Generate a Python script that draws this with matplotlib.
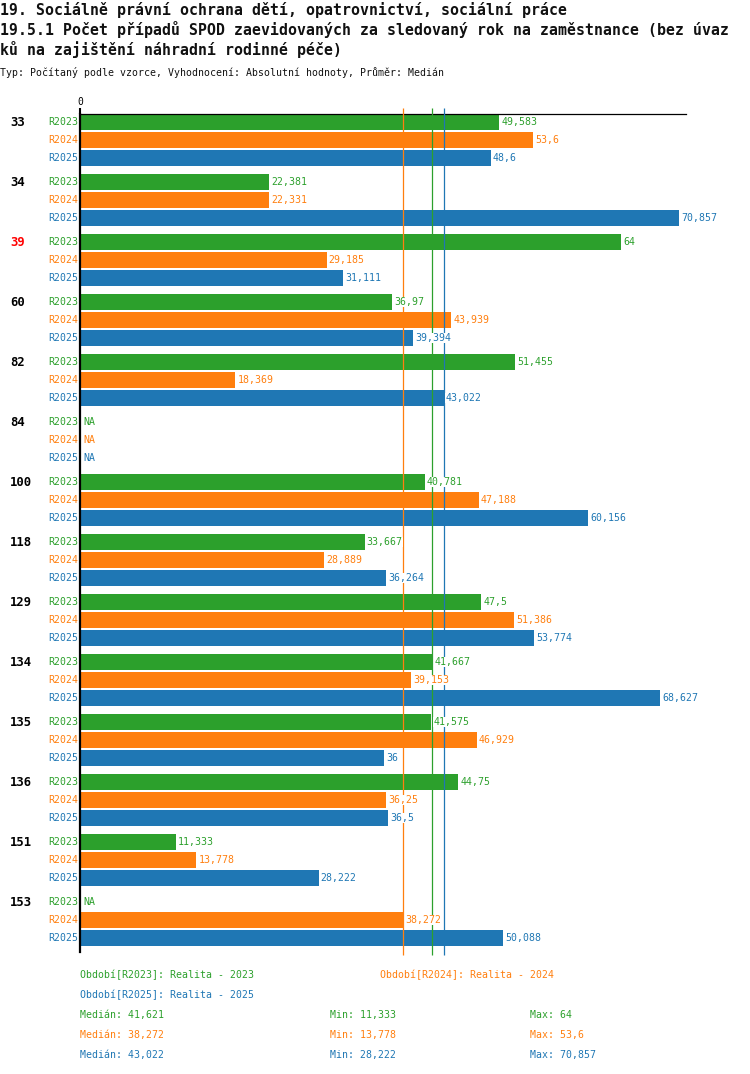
import numpy as np
import matplotlib
matplotlib.use("Agg")
import matplotlib.pyplot as plt
import matplotlib.transforms as mtransforms

NA = np.nan
groups = ["33", "34", "39", "60", "82", "84", "100", "118", "129", "134", "135", "136", "151", "153"]
highlight = "39"
series_names = ["R2023", "R2024", "R2025"]
series_desc = ["Realita - 2023", "Realita - 2024", "Realita - 2025"]
colors = ["#2ca02c", "#ff7f0e", "#1f77b4"]
r2023 = [49.583, 22.381, 64, 36.97, 51.455, NA, 40.781, 33.667, 47.5, 41.667, 41.575, 44.75, 11.333, NA]
r2024 = [53.6, 22.331, 29.185, 43.939, 18.369, NA, 47.188, 28.889, 51.386, 39.153, 46.929, 36.25, 13.778, 38.272]
r2025 = [48.6, 70.857, 31.111, 39.394, 43.022, NA, 60.156, 36.264, 53.774, 68.627, 36, 36.5, 28.222, 50.088]
values = [r2023, r2024, r2025]

title1 = "19. Sociálně právní ochrana dětí, opatrovnictví, sociální práce"
title2 = "19.5.1 Počet případů SPOD zaevidovaných za sledovaný rok na zaměstnance (bez úvaz"
title3 = "ků na zajištění náhradní rodinné péče)"
subtitle = "Typ: Počítaný podle vzorce, Vyhodnocení: Absolutní hodnoty, Průměr: Medián"


def fmt(v):
    s = f"{v:.3f}".rstrip("0").rstrip(".")
    return s.replace(".", ",")


W, H = 750, 1074
plt.rcParams["font.family"] = ["DejaVu Sans Mono"]
fig = plt.figure(figsize=(W / 100, H / 100), dpi=100)


def ftext(x, y, s, **kw):
    fig.text(x / W, 1 - y / H, s, va="center", **kw)


ftext(0, 10, title1, fontsize=10.75, color="#111111", fontweight="bold")
ftext(0, 30, title2, fontsize=10.75, color="#111111", fontweight="bold")
ftext(0, 50, title3, fontsize=10.75, color="#111111", fontweight="bold")
ftext(0, 73, subtitle, fontsize=7.1, color="#111111")

top_px, bot_px = 114, 952
ax = fig.add_axes([80 / W, 1 - bot_px / H, 606 / W, (bot_px - top_px) / H])
ax.set_xlim(0, 71.7)
ax.set_ylim(830, -8)
for sp in ["right", "bottom"]:
    ax.spines[sp].set_visible(False)
ax.spines["top"].set_linewidth(0.9)
ax.spines["left"].set_linewidth(1.6)
ax.xaxis.tick_top()
ax.set_xticks([0])
ax.set_xticklabels(["0"], fontsize=7)
ax.tick_params(axis="x", length=4, width=1.5, pad=1)
ax.set_yticks([])

label_tr = mtransforms.blended_transform_factory(fig.transFigure, ax.transData)

for g, name in enumerate(groups):
    base = g * 60
    ax.text(10 / W, base, name, transform=label_tr, ha="left", va="center",
            fontsize=8.8, fontweight="bold", color="red" if name == highlight else "black")
    for k in range(3):
        y = base + k * 18
        v = values[k][g]
        ax.text(78 / W, y, series_names[k], transform=label_tr, ha="right", va="center",
                fontsize=7.1, color=colors[k])
        if np.isnan(v):
            ax.annotate("NA", xy=(0, y), xytext=(2.5, 0), textcoords="offset points",
                        ha="left", va="center", fontsize=7.1, color=colors[k], zorder=5,
                        bbox=dict(boxstyle="square,pad=0.05", fc="white", ec="none"))
        else:
            ax.barh(y, v, height=16, color=colors[k], edgecolor="none", linewidth=0, zorder=2)
            ax.annotate(fmt(v), xy=(v, y), xytext=(1.5, 0), textcoords="offset points",
                        ha="left", va="center", fontsize=7.1, color=colors[k], zorder=5,
                        bbox=dict(boxstyle="square,pad=0.05", fc="white", ec="none"))

meds = [np.nanmedian(v) for v in values]
mins = [np.nanmin(v) for v in values]
maxs = [np.nanmax(v) for v in values]
for k in range(3):
    ax.vlines(meds[k], -14, 833, colors=colors[k], lw=0.9, zorder=3, clip_on=False)

# legend texts
ftext(80, 975, f"Období[{series_names[0]}]: {series_desc[0]}", fontsize=7.1, color=colors[0])
ftext(380, 975, f"Období[{series_names[1]}]: {series_desc[1]}", fontsize=7.1, color=colors[1])
ftext(80, 995, f"Období[{series_names[2]}]: {series_desc[2]}", fontsize=7.1, color=colors[2])
for k in range(3):
    yy = 1015 + 20 * k
    ftext(80, yy, f"Medián: {fmt(meds[k])}", fontsize=7.1, color=colors[k])
    ftext(330, yy, f"Min: {fmt(mins[k])}", fontsize=7.1, color=colors[k])
    ftext(530, yy, f"Max: {fmt(maxs[k])}", fontsize=7.1, color=colors[k])

fig.savefig("out.png", dpi=100, facecolor="white")
